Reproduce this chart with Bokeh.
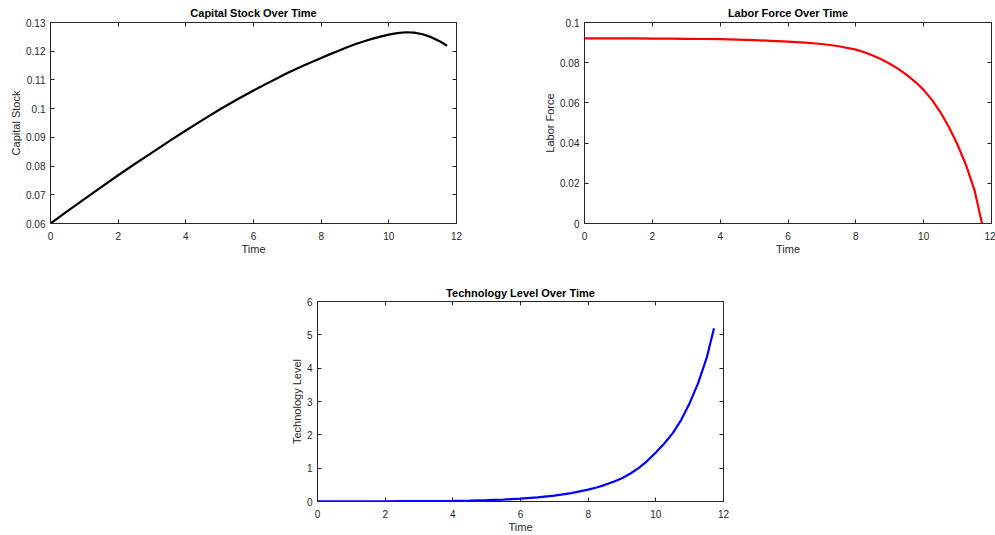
from bokeh.plotting import figure
from bokeh.models import Range1d, LinearAxis, FixedTicker, PrintfTickFormatter
from bokeh.layouts import column, row
from bokeh.embed import file_html
from bokeh.resources import INLINE

# ---- data ----
time = [0, 0.5, 1, 1.5, 2, 2.5, 3, 3.5, 4, 4.5, 5, 5.5, 6, 6.5, 7, 7.5, 8,
        8.25, 8.5, 8.75, 9, 9.25, 9.5, 9.75, 10, 10.25, 10.5, 10.75, 11,
        11.25, 11.5, 11.72]
capital = [0.0600, 0.0643, 0.0685, 0.0727, 0.0768, 0.0808, 0.0847, 0.0886,
           0.0924, 0.0961, 0.0997, 0.1031, 0.1063, 0.1094, 0.1124, 0.1151,
           0.1176, 0.1189, 0.1201, 0.1213, 0.1224, 0.1234, 0.1243, 0.1251,
           0.1258, 0.1263, 0.1266, 0.1265, 0.1259, 0.1249, 0.1235, 0.1219]
labor = [0.0921, 0.0921, 0.0921, 0.0921, 0.0920, 0.0920, 0.0919, 0.0918,
         0.0917, 0.0915, 0.0912, 0.0909, 0.0905, 0.0900, 0.0893, 0.0882,
         0.0865, 0.0852, 0.0836, 0.0817, 0.0795, 0.0769, 0.0739, 0.0705,
         0.0665, 0.0614, 0.0552, 0.0478, 0.0392, 0.0290, 0.0165, 0.0000]
technology = [0.004, 0.005, 0.006, 0.007, 0.008, 0.010, 0.012, 0.015, 0.020,
              0.028, 0.040, 0.058, 0.085, 0.122, 0.175, 0.25, 0.355, 0.42,
              0.50, 0.59, 0.70, 0.84, 1.01, 1.22, 1.47, 1.74, 2.05, 2.45,
              2.95, 3.55, 4.30, 5.2]

x_ticks = [0, 2, 4, 6, 8, 10, 12]
capital_ticks = [0.06, 0.07, 0.08, 0.09, 0.10, 0.11, 0.12, 0.13]
labor_ticks = [0, 0.02, 0.04, 0.06, 0.08, 0.1]
tech_ticks = [0, 1, 2, 3, 4, 5, 6]

FONT = "Liberation Sans"
AX = "#262626"


def style_axis(ax, ticks, show_labels, is_x):
    ax.ticker = FixedTicker(ticks=ticks)
    ax.formatter = PrintfTickFormatter(format="%g")
    ax.axis_line_color = AX
    ax.axis_line_width = 1
    ax.major_tick_in = 4
    ax.major_tick_out = 0
    ax.major_tick_line_color = AX
    ax.minor_tick_line_color = None
    ax.major_label_text_font = FONT
    ax.axis_label_text_font = FONT
    ax.axis_label_text_color = AX
    ax.axis_label_text_font_style = "normal"
    ax.axis_label_text_font_size = "11px"
    if show_labels:
        ax.major_label_text_color = AX
        ax.major_label_text_font_size = "10px"
        ax.major_label_standoff = 8 if is_x else 5
        ax.axis_label_standoff = 0 if is_x else 1
    else:
        ax.major_label_text_color = None
        ax.major_label_text_font_size = "1px"
        ax.major_label_standoff = 0
        ax.axis_label_standoff = 0


def make(title, ylabel, x, y, color, yr, yticks, w, h, bl, br, bt, bb, ts):
    p = figure(width=w, height=h, output_backend="svg", toolbar_location=None,
               x_range=Range1d(0, 12), y_range=Range1d(*yr),
               min_border_left=bl, min_border_right=br,
               min_border_top=bt, min_border_bottom=bb)
    p.title.text = title
    p.title.align = "center"
    p.title.text_font = FONT
    p.title.text_font_size = "11px"
    p.title.text_font_style = "bold"
    p.title.text_color = "#000000"
    p.title.standoff = ts
    p.title.offset = 0
    p.xgrid.visible = False
    p.ygrid.visible = False
    p.outline_line_color = AX
    p.outline_line_width = 1
    p.background_fill_color = "white"
    p.border_fill_color = "white"

    style_axis(p.xaxis[0], x_ticks, True, True)
    style_axis(p.yaxis[0], yticks, True, False)
    p.xaxis[0].axis_label = "Time"
    p.yaxis[0].axis_label = ylabel

    top = LinearAxis()
    style_axis(top, x_ticks, False, True)
    p.add_layout(top, "above")
    right = LinearAxis()
    style_axis(right, yticks, False, False)
    p.add_layout(right, "right")

    p.line(x, y, line_color=color, line_width=2.2)
    return p


p1 = make("Capital Stock Over Time", "Capital Stock", time, capital, "#000000",
          (0.06, 0.13), capital_ticks, 518, 270, 50, 62, 22, 47, 7)
p2 = make("Labor Force Over Time", "Labor Force", time, labor, "#ff0000",
          (0, 0.1), labor_ticks, 477, 270, 66, 4, 22, 47, 7)
p3 = make("Technology Level Over Time", "Technology Level", time, technology,
          "#0000ff", (0, 6), tech_ticks, 995, 265, 317, 272, 31, 32, 5)

layout = column(row(p1, p2, spacing=0), p3, spacing=0)

open("out.html", "w").write(file_html(layout, INLINE))
